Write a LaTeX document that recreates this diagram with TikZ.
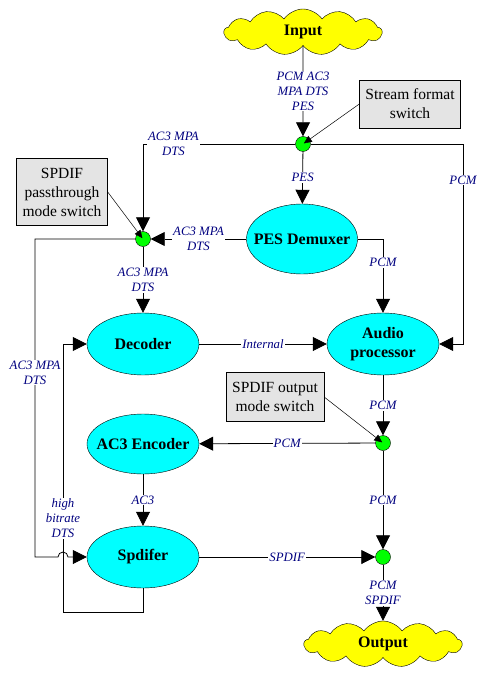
\documentclass[tikz,border=0pt]{standalone}
\usepackage{fontspec}
\setmainfont{Liberation Serif}
\usetikzlibrary{arrows.meta,positioning,shapes.geometric,shapes.symbols,calc}
\definecolor{ink}{HTML}{000000}
\definecolor{navy}{HTML}{000080}
\definecolor{cyanfill}{HTML}{00FFFF}
\definecolor{dotgreen}{HTML}{00FF00}
\definecolor{notefill}{HTML}{E4E4E4}
\definecolor{cloudfill}{HTML}{FFFF00}
\tikzset{
  proc/.style={ellipse, draw=ink, fill=cyanfill, minimum width=112pt, minimum height=62pt, inner ysep=0pt, inner xsep=-14pt, align=center, font=\bfseries\fontsize{16}{19}\selectfont},
  cloudbox/.style={cloud, cloud puffs=13, cloud puff arc=110, aspect=3.6, draw=ink, fill=cloudfill, minimum width=158pt, minimum height=46pt, inner sep=0pt, font=\bfseries\fontsize{16}{19}\selectfont},
  switchdot/.style={circle, draw=ink, fill=dotgreen, minimum size=15pt, inner sep=0pt},
  notebox/.style={draw=ink, fill=notefill, align=center, inner sep=0pt, font=\fontsize{15.5}{19}\selectfont},
  lbl/.style={fill=white, text=navy, align=center, inner sep=1pt, font=\itshape\fontsize{12.8}{15}\selectfont},
  flow/.style={draw=ink, line width=0.8pt, -{Triangle[length=14pt,width=14pt]}},
  pointer/.style={draw=ink, line width=0.5pt, -{Triangle[length=8pt,width=7pt]}, shorten >=1pt}
}
\begin{document}
\begin{tikzpicture}[x=1pt, y=-1pt]
\useasboundingbox (0,0) rectangle (486,676);
% main blocks
\node[cloudbox] (in) at (303,32) {Input};
\node[switchdot] (s1) at (303,144) {};
\node[proc, minimum width=111pt, minimum height=70pt] (dmx) at (302,239) {PES Demuxer};
\node[switchdot] (s2) at (143,239) {};
\node[proc] (dec) at (143,344) {Decoder};
\node[proc] (aud) at (383,344) {Audio\\processor};
\node[switchdot] (s3) at (383,443) {};
\node[proc, minimum height=60pt] (enc) at (143,444) {AC3 Encoder};
\node[proc] (spd) at (143,557) {Spdifer};
\node[switchdot] (s4) at (383,557) {};
\node[cloudbox] (out) at (383,644) {Output};
% switch notes
\node[notebox, minimum width=101pt, minimum height=48pt] (fmt) at (410,104) {Stream format\\switch};
\node[notebox, minimum width=91pt, minimum height=67pt] (pass) at (62,192) {SPDIF\\passthrough\\mode switch};
\node[notebox, minimum width=98pt, minimum height=49pt] (omode) at (275,397) {SPDIF output\\mode switch};
% corners
\coordinate (rtop) at (463,144);
\coordinate (rbot) at (463,344);
\coordinate (lt) at (35,239);
\coordinate (lb) at (35,557);
\coordinate (hop) at (58,557);
\coordinate (db) at (143,612);
\coordinate (dbl) at (63,612);
\coordinate (dtl) at (63,344);
% connectors
\draw[flow] (in) -- node[lbl]{PCM AC3\\MPA DTS\\PES} (s1);
\draw[flow] (s1) -- node[lbl]{PES} (dmx);
\draw[flow] (s1) -| node[lbl, pos=0.4]{AC3 MPA\\DTS} (s2);
\draw[flow] (s1) -- (rtop) -- node[lbl, pos=0.18]{PCM} (rbot) -- (aud.east);
\draw[flow] (dmx) -- node[lbl]{AC3 MPA\\DTS} (s2);
\draw[flow] (dmx.east) -| node[lbl, pos=0.66]{PCM} (aud.north);
\draw[flow] (s2) -- node[lbl]{AC3 MPA\\DTS} (dec);
\draw[flow] (dec) -- node[lbl]{Internal} (aud);
\draw[flow] (aud) -- node[lbl]{PCM} (s3);
\draw[flow] (s3) -- node[lbl]{PCM} (enc);
\draw[flow] (enc) -- node[lbl]{AC3} (spd);
\draw[flow] (s3) -- node[lbl]{PCM} (s4);
\draw[flow] (spd) -- node[lbl]{SPDIF} (s4);
\draw[flow] (s4) -- node[lbl]{PCM\\SPDIF} (out);
\draw[flow] (s2) -- (lt) -- node[lbl, pos=0.42]{AC3 MPA\\DTS} (lb) -- (hop) arc[start angle=180, end angle=0, radius=5pt] -- (spd.west);
\draw[flow] (spd.south) -- (db) -- (dbl) -- node[lbl, pos=0.35]{high\\bitrate\\DTS} (dtl) -- (dec.west);
% pointers
\draw[pointer] (fmt.west) -- (s1.center);
\draw[pointer] (pass.east) -- (s2.center);
\draw[pointer] (omode.east) -- (s3.center);
\end{tikzpicture}
\end{document}
